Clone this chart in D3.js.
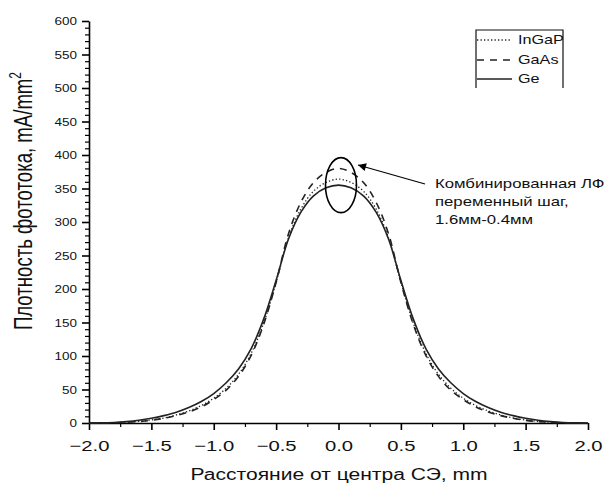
<!DOCTYPE html>
<html>
<head>
<meta charset="utf-8">
<script src="https://cdn.jsdelivr.net/npm/d3@7"></script>
<style>
  html, body { margin: 0; padding: 0; background: #fff; }
  svg { display: block; font-family: "Liberation Sans", Arial, sans-serif; }
</style>
</head>
<body>
<svg id="chart" width="611" height="485"></svg>
<script>
// ---- data ----
const xValues = [-2.0,-1.9,-1.8,-1.7,-1.6,-1.5,-1.4,-1.3,-1.2,-1.1,-1.0,-0.9,-0.8,-0.7,-0.6,-0.5,-0.4,-0.3,-0.2,-0.1,0.0,
                 0.1,0.2,0.3,0.4,0.5,0.6,0.7,0.8,0.9,1.0,1.1,1.2,1.3,1.4,1.5,1.6,1.7,1.8,1.9,2.0];
const geValues = [0,0.2,0.8,2,4,7,11,16,23,32,44,60,81,111,155,213,275,315,339,351,355,
                  351,339,315,275,213,155,111,81,60,44,32,23,16,11,7,4,2,0.8,0.2,0];
const inGaPValues = [0,0.1,0.5,1.2,2.5,4.5,7.5,12,18,26,37,52,73,104,149,210,277,320,346,359,364,
                     359,346,320,277,210,149,104,73,52,37,26,18,12,7.5,4.5,2.5,1.2,0.5,0.1,0];
const gaAsValues = [0,0.1,0.4,1,2.2,4,7,11,16.5,24,35,49,70,101,147,210,283,330,359,374,380,
                    374,359,330,283,210,147,101,70,49,35,24,16.5,11,7,4,2.2,1,0.4,0.1,0];
const seriesNames = ["InGaP", "GaAs", "Ge"];
const xTicks = [-2.0,-1.5,-1.0,-0.5,0.0,0.5,1.0,1.5,2.0];
const yTicks = [0,50,100,150,200,250,300,350,400,450,500,550,600];
const xTitle = "Расстояние от центра СЭ, mm";
const yTitle = "Плотность фототока, mA/mm";
const noteLines = ["Комбинированная ЛФ", "переменный шаг,", "1.6мм-0.4мм"];

// ---- layout ----
const SX = 1.35; // horizontal text stretch seen in the reference
const svg = d3.select("#chart");
const x = d3.scaleLinear().domain([-2, 2]).range([89, 588]);
const y = d3.scaleLinear().domain([0, 600]).range([423, 21]);

// minor ticks
const yMinor = d3.range(0, 601, 10).filter(v => v % 50 !== 0);
const xMinor = d3.range(-1.75, 2, 0.5);

svg.append("g").attr("transform", "translate(89,0)")
  .call(d3.axisLeft(y).tickValues(yMinor).tickSize(4).tickFormat(""))
  .call(g => g.select(".domain").remove())
  .selectAll("line").attr("stroke", "#000").attr("stroke-width", 1.2);
svg.append("g").attr("transform", "translate(0,423)")
  .call(d3.axisBottom(x).tickValues(xMinor).tickSize(4).tickFormat(""))
  .call(g => g.select(".domain").remove())
  .selectAll("line").attr("stroke", "#000").attr("stroke-width", 1.2);

// y axis
const gy = svg.append("g").attr("transform", "translate(89,0)")
  .call(d3.axisLeft(y).tickValues(yTicks).tickSize(7).tickSizeOuter(0).tickFormat(d3.format("d")));
gy.select(".domain").attr("stroke", "#000").attr("stroke-width", 1.6);
gy.selectAll(".tick line").attr("stroke", "#000").attr("stroke-width", 1.6);
gy.selectAll(".tick text")
  .attr("x", null).attr("dy", null)
  .attr("font-size", 10).attr("fill", "#111")
  .attr("font-family", "Liberation Sans, Arial, sans-serif")
  .attr("text-anchor", "end")
  .attr("transform", `translate(-12,3.6) scale(${SX},1)`);

// x axis
const gx = svg.append("g").attr("transform", "translate(0,423)")
  .call(d3.axisBottom(x).tickValues(xTicks).tickSize(7).tickSizeOuter(0).tickFormat(d3.format(".1f")));
gx.select(".domain").attr("stroke", "#000").attr("stroke-width", 1.6);
gx.selectAll(".tick line").attr("stroke", "#000").attr("stroke-width", 1.6);
gx.selectAll(".tick text")
  .attr("y", null).attr("dy", null)
  .attr("font-size", 15).attr("fill", "#111")
  .attr("font-family", "Liberation Sans, Arial, sans-serif")
  .attr("text-anchor", "middle")
  .attr("transform", `translate(0,28) scale(${SX},1)`);

// axis titles
svg.append("text")
  .attr("transform", `translate(339,480) scale(${SX},1)`)
  .attr("text-anchor", "middle").attr("font-size", 15.6).attr("fill", "#111")
  .text(xTitle);

const yt = svg.append("text")
  .attr("transform", `translate(32,201) scale(${SX},1) rotate(-90)`)
  .attr("text-anchor", "middle").attr("font-size", 18.6).attr("fill", "#111");
yt.append("tspan").text(yTitle);
yt.append("tspan").attr("font-size", 12).attr("dy", -8).text("2");

// curves
const line = d3.line().x(d => x(d[0])).y(d => y(d[1])).curve(d3.curveCatmullRom.alpha(0.5));
const series = [
  { name: "InGaP", values: inGaPValues, dash: "1.3,2.2", width: 1.3 },
  { name: "GaAs",  values: gaAsValues,  dash: "7,6",     width: 1.6 },
  { name: "Ge",    values: geValues,    dash: null,      width: 1.6 }
];
series.forEach(s => {
  svg.append("path")
    .datum(xValues.map((xv, i) => [xv, s.values[i]]))
    .attr("fill", "none").attr("stroke", "#222")
    .attr("stroke-width", s.width)
    .attr("stroke-dasharray", s.dash)
    .attr("d", line);
});

// legend
const lg = svg.append("g");
lg.append("path").attr("d", "M476,88 V30 H563 V88").attr("fill", "none").attr("stroke", "#111").attr("stroke-width", 1.2);
const legY = [40, 60, 79];
series.forEach((s, i) => {
  lg.append("line").attr("x1", 477).attr("x2", 512).attr("y1", legY[i]).attr("y2", legY[i])
    .attr("stroke", "#222").attr("stroke-width", s.width).attr("stroke-dasharray", s.dash);
  lg.append("text").attr("transform", `translate(518,${legY[i] + 4.3}) scale(${SX},1)`)
    .attr("font-size", 12).attr("fill", "#111").text(seriesNames[i]);
});

// annotation
svg.append("ellipse").attr("cx", x(0.02)).attr("cy", y(355)).attr("rx", 15.5).attr("ry", 27.5)
  .attr("fill", "none").attr("stroke", "#000").attr("stroke-width", 1.6);
svg.append("defs").append("marker")
  .attr("id", "arr").attr("viewBox", "0 0 10 10").attr("refX", 10).attr("refY", 5)
  .attr("markerWidth", 12).attr("markerHeight", 8).attr("markerUnits", "userSpaceOnUse")
  .attr("orient", "auto")
  .append("path").attr("d", "M0,0 L10,5 L0,10 Z").attr("fill", "#000");
svg.append("line").attr("x1", 425).attr("y1", 184).attr("x2", 358).attr("y2", 165)
  .attr("stroke", "#000").attr("stroke-width", 1.2).attr("marker-end", "url(#arr)");
noteLines.forEach((t, i) => {
  svg.append("text").attr("transform", `translate(435,${188 + i * 18}) scale(${SX},1)`)
    .attr("font-size", 12.4).attr("fill", "#111").text(t);
});
</script>
</body>
</html>
